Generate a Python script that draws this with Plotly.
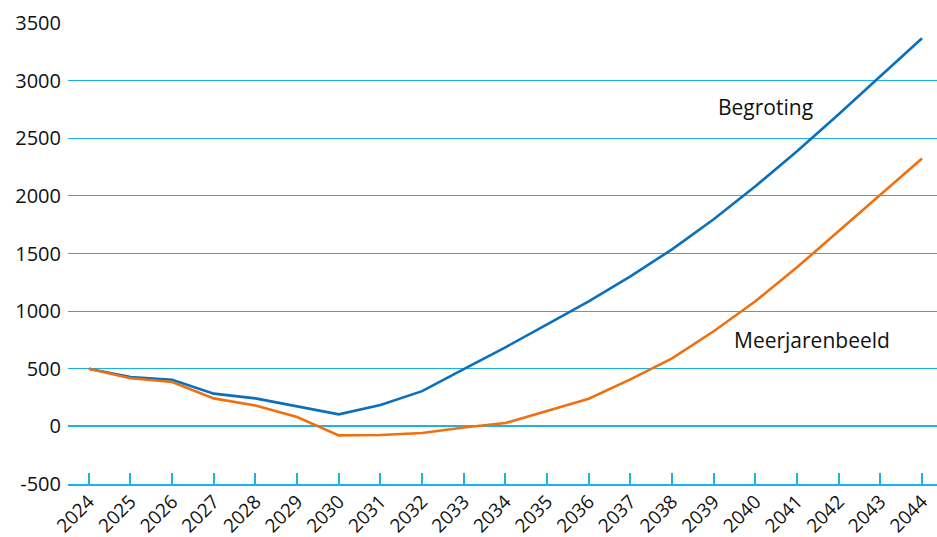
import plotly.graph_objects as go

years = list(range(2024, 2045))
begroting = [500, 428, 405, 284, 243, 176, 104, 185, 306, 497, 686, 885, 1085, 1302,
             1536, 1797, 2083, 2387, 2708, 3038, 3368]
meerjarenbeeld = [500, 417, 385, 243, 182, 81, -78, -75, -58, -10, 29, 133, 240, 408,
                  590, 825, 1085, 1380, 1693, 2005, 2324]
y_ticks = [-500, 0, 500, 1000, 1500, 2000, 2500, 3000, 3500]
y_tick_text = ["-500", "0", "500", "1000", "1500", "2000", "2500", "3000", "3500"]

grid_col = "#1bb3e6"
font_family = "Open Sans"

fig = go.Figure()
fig.add_trace(go.Scatter(x=years, y=begroting, mode="lines", name="Begroting",
                         line=dict(color="#0a6fbd", width=2.6)))
fig.add_trace(go.Scatter(x=years, y=meerjarenbeeld, mode="lines", name="Meerjarenbeeld",
                         line=dict(color="#f07010", width=2.6)))

fig.add_annotation(x=2040.25, y=2770, text="Begroting", showarrow=False,
                   font=dict(family=font_family, size=21, color="#111111"))
fig.add_annotation(x=2041.35, y=750, text="Meerjarenbeeld", showarrow=False,
                   font=dict(family=font_family, size=21, color="#111111"))

fig.update_layout(
    width=937, height=537,
    margin=dict(l=68, r=0, t=23, b=53, autoexpand=False),
    paper_bgcolor="white", plot_bgcolor="white",
    showlegend=False,
    font=dict(family=font_family, size=20, color="#111111"),
)
fig.update_xaxes(
    range=[2023.5, 2044.36], tickmode="array", tickvals=years,
    ticktext=[str(y) for y in years], tickangle=-45,
    showgrid=False, zeroline=False,
    showline=True, linecolor=grid_col, linewidth=2,
    ticks="inside", ticklen=11, tickcolor=grid_col, tickwidth=1.5,
    ticklabelstandoff=-3,
    tickfont=dict(family=font_family, size=19, color="#111111"),
)
fig.update_yaxes(
    range=[-500, 3500], tickmode="array", tickvals=y_ticks, ticktext=y_tick_text,
    showgrid=True, gridcolor=grid_col, gridwidth=1.3,
    zeroline=True, zerolinecolor=grid_col, zerolinewidth=2,
    showline=False, ticks="", ticklabelstandoff=6,
    tickfont=dict(family=font_family, size=20, color="#111111"),
)

fig.write_html("out.html", config={"displayModeBar": False},
               post_script="document.body.style.margin='0px';document.body.style.overflow='hidden';")
